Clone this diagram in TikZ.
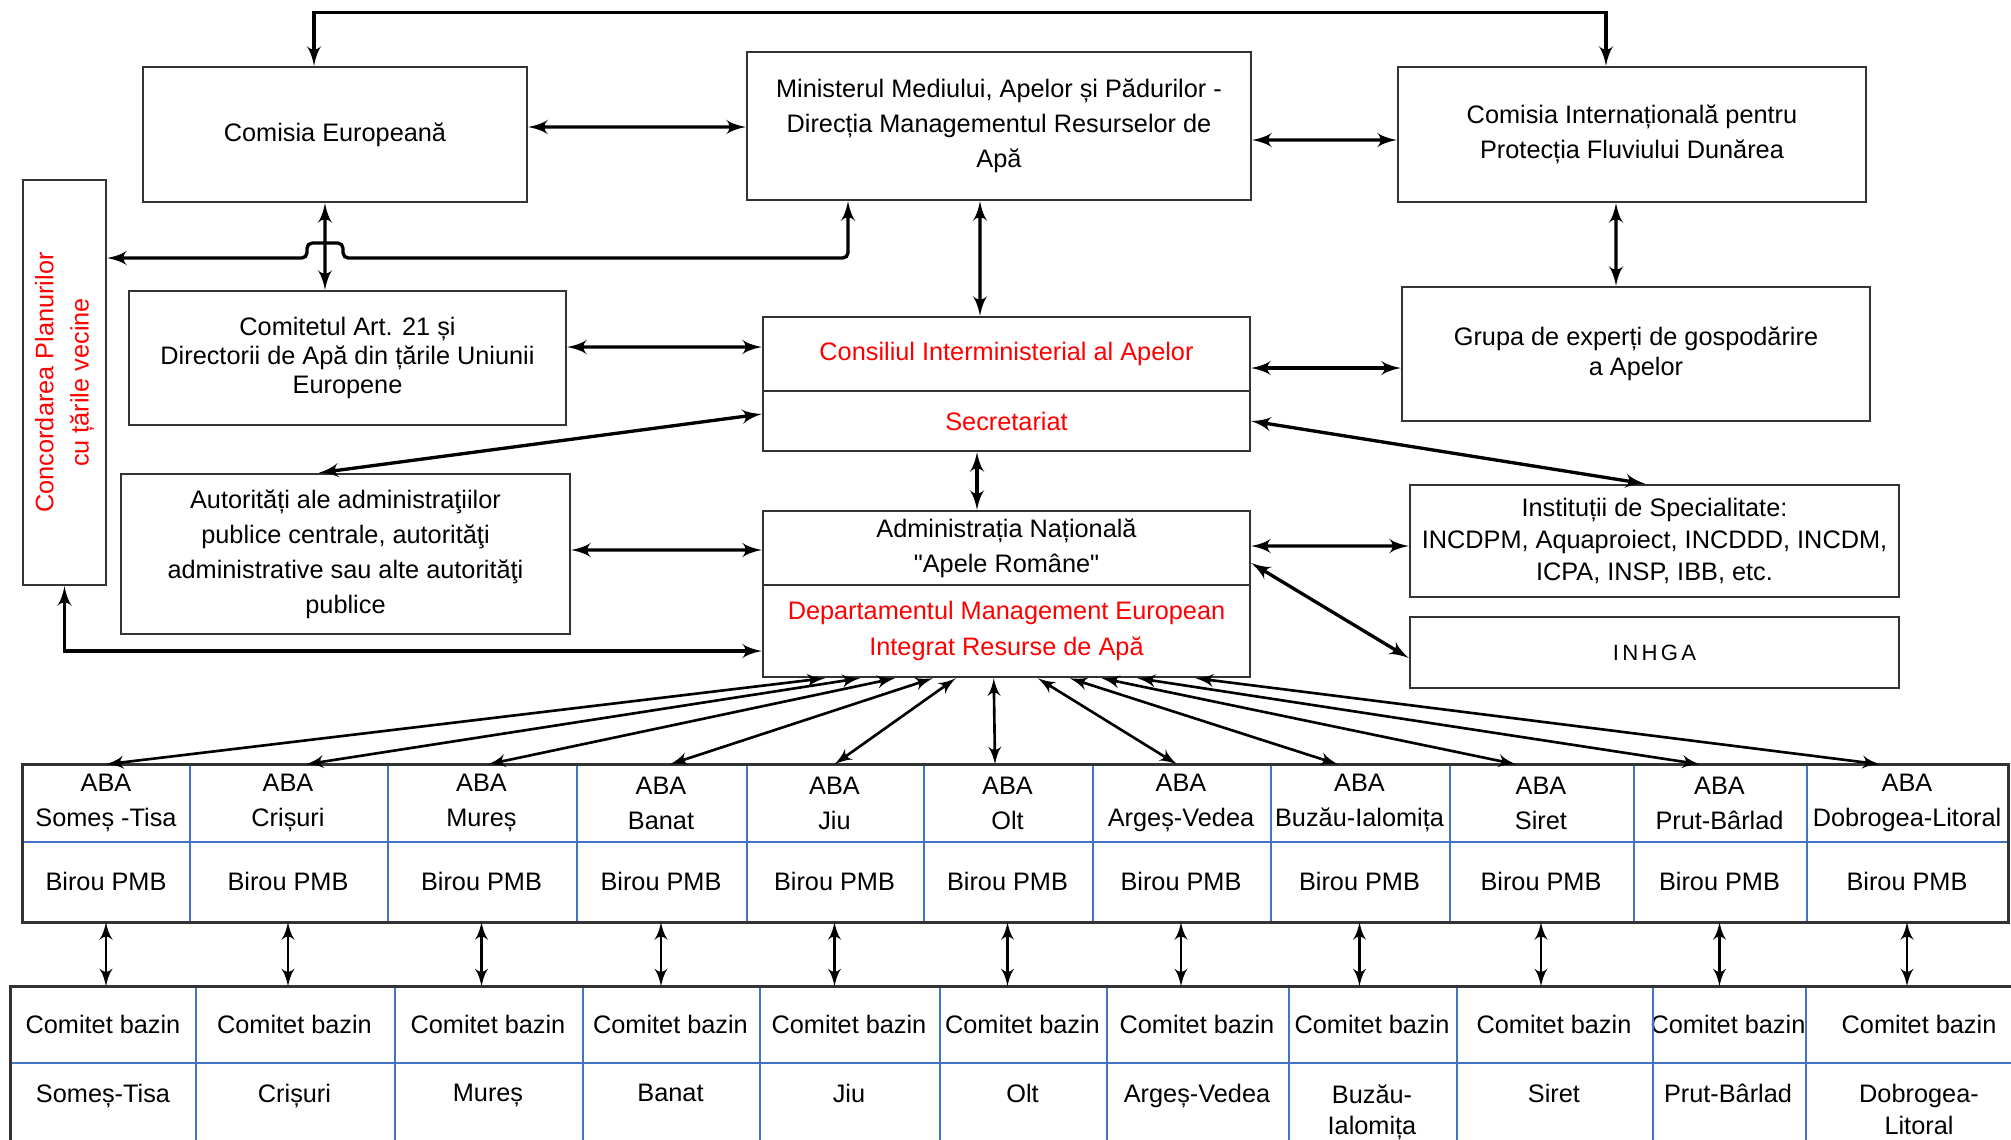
\documentclass[tikz,border=0pt]{standalone}
\usepackage{fontspec}
\setmainfont{Liberation Sans}
\newfontfamily\spacedfont[LetterSpace=15]{Liberation Sans}
\newfontfamily\plainfont[Ligatures=TeXOff]{Liberation Sans}
\usetikzlibrary{arrows}
\definecolor{gridblue}{HTML}{4472C4}
\tikzset{
    box/.style={draw=black!80, line width=0.7pt, align=center, inner sep=1pt},
    cell/.style={align=center, inner sep=0pt},
    aba/.style={cell, minimum width=#1, minimum height=0.76cm},
    pmb/.style={cell, anchor=north, minimum width=#1, minimum height=0.79cm},
    com/.style={cell, minimum width=#1, minimum height=0.75cm},
    basin/.style={cell, anchor=north, font=\fontsize{7.2}{9}\selectfont},
    link/.style={<->, > = latex', line width=0.95pt},
    flink/.style={<->, > = latex', line width=0.75pt},
    gridline/.style={draw=gridblue, line width=0.5pt},
    frame/.style={draw=black!80, line width=0.8pt}
}
\begin{document}
\begin{tikzpicture}[x=1cm, y=-1cm, font=\fontsize{7.2}{10}\selectfont]
\useasboundingbox (0,0) rectangle (20.11,11.39);

\node[box, minimum width=3.84cm, minimum height=1.35cm] (1) at (3.35,1.345) {Comisia Europeană};
\node[box, minimum width=5.04cm, minimum height=1.48cm] (2) at (9.99,1.26) {Ministerul Mediului, Apelor și Pădurilor -\\Direcția Managementul Resurselor de\\Apă};
\node[box, minimum width=4.68cm, minimum height=1.35cm] (3) at (16.32,1.345) {Comisia Internațională pentru\\Protecția Fluviului Dunărea};
\node[box, text=red, rotate=90, minimum width=4.05cm, minimum height=0.83cm] (4) at (0.645,3.825) {Concordarea Planurilor\\cu țările vecine};
\node[box, minimum width=4.37cm, minimum height=1.34cm, font=\fontsize{7.2}{8.2}\selectfont] (5) at (3.475,3.58) {Comitetul Art. 21 și\\Directorii de Apă din țările Uniunii\\Europene};
\node[box, text=red, minimum width=4.87cm, minimum height=0.74cm] (6) at (10.065,3.54) {Consiliul Interministerial al Apelor};
\node[box, text=red, minimum width=4.87cm, minimum height=0.60cm] (7) at (10.065,4.21) {Secretariat};
\node[box, minimum width=4.68cm, minimum height=1.34cm, font=\fontsize{7.2}{8.6}\selectfont] (8) at (16.36,3.54) {Grupa de experți de gospodărire\\a Apelor};
\node[box, minimum width=4.49cm, minimum height=1.60cm] (9) at (3.455,5.54) {Autorități ale administraţiilor\\publice centrale, autorităţi\\administrative sau alte autorităţi\\publice};
\node[box, minimum width=4.87cm, minimum height=0.74cm, font=\plainfont\fontsize{7.2}{10}\selectfont] (10) at (10.065,5.48) {Administrația Națională\\"Apele Române"};
\node[box, text=red, minimum width=4.87cm, minimum height=0.92cm] (11) at (10.065,6.31) {Departamentul Management European\\Integrat Resurse de Apă};
\node[box, minimum width=4.89cm, minimum height=1.12cm, font=\fontsize{7.2}{9}\selectfont] (12) at (16.545,5.41) {Instituții de Specialitate:\\INCDPM, Aquaproiect, INCDDD, INCDM,\\ICPA, INSP, IBB, etc.};
\node[box, minimum width=4.89cm, minimum height=0.71cm, font=\spacedfont\fontsize{6.3}{8}\selectfont] (13) at (16.545,6.525) {INHGA};

\coordinate (j1) at (3.43,2.58);
\coordinate (j2) at (3.07,2.58);

\draw[link] ([xshift=-2.1mm]1.north) -- ++(0,-0.53) -| ([xshift=-2.6mm]3.north);
\draw[link] ([yshift=0.75mm]1.east) -- ([yshift=-0.1mm]2.west);
\draw[link] ([yshift=-1.4mm]2.east) -- ([yshift=-0.55mm]3.west);
\draw[link] ([xshift=-1mm]1.south) -- ([xshift=-2.25mm]5.north);
\draw[link, rounded corners=1.5pt] ([xshift=-15.1mm]2.south) |- (j1) -- ++(0,-0.15) -- ++(-0.36,0) -- (j2) -- (4.south |- j2);
\draw[link] ([xshift=-1.9mm]2.south) -- ([xshift=-2.65mm]6.north);
\draw[link] ([yshift=1.1mm]5.east) -- ([yshift=0.7mm]6.west);
\draw[link] ([yshift=-1.4mm]6.east) -- ([yshift=-1.4mm]8.west);
\draw[link] ([xshift=-1.6mm]3.south) -- ([xshift=-2mm]8.north);
\draw[link] ([yshift=0.7mm]7.west) -- ([xshift=-2.65mm]9.north);
\draw[link] (7.east) -- ([xshift=-0.95mm]12.north);
\draw[link] ([xshift=-2.95mm]7.south) -- ([xshift=-2.95mm]10.north);
\draw[link] ([yshift=0.4mm]9.east) -- ([yshift=-0.2mm]10.west);
\draw[link] (4.west) |- ([yshift=-2mm]11.west);
\draw[link] ([yshift=0.2mm]10.east) -- ([yshift=-0.5mm]12.west);
\draw[link] ([yshift=-1.5mm]10.east) -- ([yshift=-0.55mm]13.west);

\node[aba=1.66cm] (a1) at (1.06,8.03) {ABA\\Someș -Tisa};
\node[aba=1.98cm] (a2) at (2.88,8.03) {ABA\\Crișuri};
\node[aba=1.89cm] (a3) at (4.815,8.03) {ABA\\Mureș};
\node[aba=1.70cm] (a4) at (6.61,8.03) {ABA\\Banat};
\node[aba=1.77cm] (a5) at (8.345,8.03) {ABA\\Jiu};
\node[aba=1.69cm] (a6) at (10.075,8.03) {ABA\\Olt};
\node[aba=1.78cm] (a7) at (11.81,8.03) {ABA\\Argeș-Vedea};
\node[aba=1.79cm] (a8) at (13.595,8.03) {ABA\\Buzău-Ialomița};
\node[aba=1.84cm] (a9) at (15.41,8.03) {ABA\\Siret};
\node[aba=1.73cm] (a10) at (17.195,8.03) {ABA\\Prut-Bârlad};
\node[aba=2.02cm] (a11) at (19.07,8.03) {ABA\\Dobrogea-Litoral};

\node[pmb=1.66cm] (p1) at (a1.south) {Birou PMB};
\node[pmb=1.98cm] (p2) at (a2.south) {Birou PMB};
\node[pmb=1.89cm] (p3) at (a3.south) {Birou PMB};
\node[pmb=1.70cm] (p4) at (a4.south) {Birou PMB};
\node[pmb=1.77cm] (p5) at (a5.south) {Birou PMB};
\node[pmb=1.69cm] (p6) at (a6.south) {Birou PMB};
\node[pmb=1.78cm] (p7) at (a7.south) {Birou PMB};
\node[pmb=1.79cm] (p8) at (a8.south) {Birou PMB};
\node[pmb=1.84cm] (p9) at (a9.south) {Birou PMB};
\node[pmb=1.73cm] (p10) at (a10.south) {Birou PMB};
\node[pmb=2.02cm] (p11) at (a11.south) {Birou PMB};

\draw[gridline] (a1.south west) -- (a11.south east);
\draw[gridline] (a1.north east) -- (p1.south east) (a2.north east) -- (p2.south east)
    (a3.north east) -- (p3.south east) (a4.north east) -- (p4.south east)
    (a5.north east) -- (p5.south east) (a6.north east) -- (p6.south east)
    (a7.north east) -- (p7.south east) (a8.north east) -- (p8.south east)
    (a9.north east) -- (p9.south east) (a10.north east) -- (p10.south east);
\draw[frame] (a1.north west) rectangle (p11.south east);

\node[com=1.84cm] (c1) at (1.03,10.245) {Comitet bazin};
\node[com=1.99cm] (c2) at (2.945,10.245) {Comitet bazin};
\node[com=1.88cm] (c3) at (4.88,10.245) {Comitet bazin};
\node[com=1.77cm] (c4) at (6.705,10.245) {Comitet bazin};
\node[com=1.80cm] (c5) at (8.49,10.245) {Comitet bazin};
\node[com=1.67cm] (c6) at (10.225,10.245) {Comitet bazin};
\node[com=1.82cm] (c7) at (11.97,10.245) {Comitet bazin};
\node[com=1.68cm] (c8) at (13.72,10.245) {Comitet bazin};
\node[com=1.96cm] (c9) at (15.54,10.245) {Comitet bazin};
\node[com=1.52cm] (c10) at (17.28,10.245) {Comitet bazin};
\node[com=2.30cm] (c11) at (19.19,10.245) {Comitet bazin};

\node[basin] (n1) at ([yshift=-2.1mm]c1.south) {Someș-Tisa};
\node[basin] (n2) at ([yshift=-2.1mm]c2.south) {Crișuri};
\node[basin] (n3) at ([yshift=-2.1mm]c3.south) {Mureș};
\node[basin] (n4) at ([yshift=-2.1mm]c4.south) {Banat};
\node[basin] (n5) at ([yshift=-2.1mm]c5.south) {Jiu};
\node[basin] (n6) at ([yshift=-2.1mm]c6.south) {Olt};
\node[basin] (n7) at ([yshift=-2.1mm]c7.south) {Argeș-Vedea};
\node[basin] (n8) at ([yshift=-2.1mm]c8.south) {Buzău-\\Ialomița};
\node[basin] (n9) at ([yshift=-2.1mm]c9.south) {Siret};
\node[basin] (n10) at ([yshift=-2.1mm]c10.south) {Prut-Bârlad};
\node[basin] (n11) at ([yshift=-2.1mm]c11.south) {Dobrogea-\\Litoral};

\draw[gridline] (c1.south west) -- (c11.south east);
\draw[gridline] (c1.north east) -- ++(0,1.6) (c2.north east) -- ++(0,1.6)
    (c3.north east) -- ++(0,1.6) (c4.north east) -- ++(0,1.6)
    (c5.north east) -- ++(0,1.6) (c6.north east) -- ++(0,1.6)
    (c7.north east) -- ++(0,1.6) (c8.north east) -- ++(0,1.6)
    (c9.north east) -- ++(0,1.6) (c10.north east) -- ++(0,1.6);
\draw[frame] (c11.north east) -- (c1.north west) -- ++(0,1.6);

\draw[flink] ([xshift=6.3mm]11.south west) -- (a1.north);
\draw[flink] ([xshift=9.8mm]11.south west) -- ([xshift=1.8mm]a2.north);
\draw[flink] ([xshift=13.3mm]11.south west) -- ([xshift=0.65mm]a3.north);
\draw[flink] ([xshift=17.1mm]11.south west) -- ([xshift=0.9mm]a4.north);
\draw[flink] ([xshift=19.4mm]11.south west) -- (a5.north);
\draw[flink] ([xshift=23.2mm]11.south west) -- ([xshift=-1.25mm]a6.north);
\draw[flink] ([xshift=27.6mm]11.south west) -- ([xshift=-0.4mm]a7.north);
\draw[flink] ([xshift=30.8mm]11.south west) -- ([xshift=-2.15mm]a8.north);
\draw[flink] ([xshift=34.0mm]11.south west) -- ([xshift=-2.5mm]a9.north);
\draw[flink] ([xshift=37.6mm]11.south west) -- ([xshift=-1.95mm]a10.north);
\draw[flink] ([xshift=43.4mm]11.south west) -- ([xshift=-2.7mm]a11.north);

\draw[flink] (p1.south) -- (p1.south |- c1.north);
\draw[flink] (p2.south) -- (p2.south |- c2.north);
\draw[flink] (p3.south) -- (p3.south |- c3.north);
\draw[flink] (p4.south) -- (p4.south |- c4.north);
\draw[flink] (p5.south) -- (p5.south |- c5.north);
\draw[flink] (p6.south) -- (p6.south |- c6.north);
\draw[flink] (p7.south) -- (p7.south |- c7.north);
\draw[flink] (p8.south) -- (p8.south |- c8.north);
\draw[flink] (p9.south) -- (p9.south |- c9.north);
\draw[flink] (p10.south) -- (p10.south |- c10.north);
\draw[flink] (p11.south) -- (p11.south |- c11.north);

\end{tikzpicture}
\end{document}
